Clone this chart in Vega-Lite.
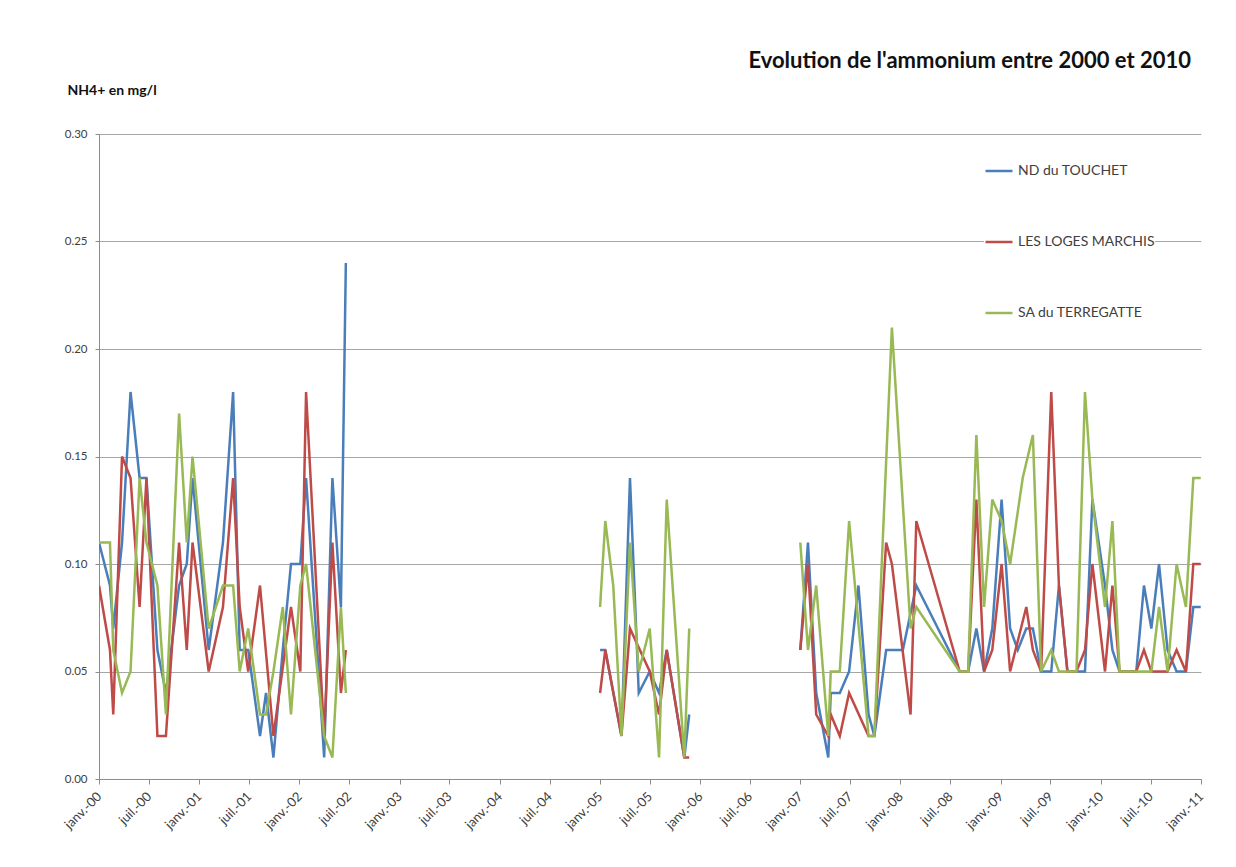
{
  "$schema": "https://vega.github.io/schema/vega-lite/v6.json",
  "width": 1102,
  "height": 645,
  "autosize": {"type": "none"},
  "padding": {"left": 99, "top": 134, "right": 35, "bottom": 88},
  "background": "white",
  "title": {
    "text": "Evolution de l'ammonium entre 2000 et 2010",
    "anchor": "end",
    "frame": "group",
    "offset": 10,
    "dx": -10,
    "font": "Lato",
    "fontSize": 22,
    "fontWeight": "bold",
    "color": "#111111"
  },
  "config": {
    "view": {"stroke": null},
    "font": "Lato",
    "axis": {
      "labelFont": "Lato",
      "labelColor": "#404040",
      "domainColor": "#8c8c8c",
      "tickColor": "#8c8c8c",
      "gridColor": "#a6a6a6",
      "gridWidth": 1
    }
  },
  "datasets": {
    "nd": [
      {"date": "2000-01-01", "nh4": 0.11}, {"date": "2000-02-10", "nh4": 0.09}, {"date": "2000-02-22", "nh4": 0.07},
      {"date": "2000-03-25", "nh4": 0.11}, {"date": "2000-04-25", "nh4": 0.18}, {"date": "2000-05-28", "nh4": 0.14},
      {"date": "2000-06-22", "nh4": 0.14}, {"date": "2000-08-01", "nh4": 0.06}, {"date": "2000-09-01", "nh4": 0.04},
      {"date": "2000-10-19", "nh4": 0.09}, {"date": "2000-11-16", "nh4": 0.10}, {"date": "2000-12-07", "nh4": 0.14},
      {"date": "2001-02-04", "nh4": 0.06}, {"date": "2001-03-28", "nh4": 0.11}, {"date": "2001-05-04", "nh4": 0.18},
      {"date": "2001-05-28", "nh4": 0.06}, {"date": "2001-06-28", "nh4": 0.06}, {"date": "2001-08-10", "nh4": 0.02},
      {"date": "2001-09-01", "nh4": 0.04}, {"date": "2001-09-28", "nh4": 0.01}, {"date": "2001-11-01", "nh4": 0.06},
      {"date": "2001-12-01", "nh4": 0.10}, {"date": "2002-01-04", "nh4": 0.10}, {"date": "2002-01-25", "nh4": 0.14},
      {"date": "2002-04-01", "nh4": 0.01}, {"date": "2002-05-01", "nh4": 0.14}, {"date": "2002-06-01", "nh4": 0.08},
      {"date": "2002-06-19", "nh4": 0.24},
      {"date": "2003-06-01", "nh4": null},
      {"date": "2005-01-01", "nh4": 0.06}, {"date": "2005-01-20", "nh4": 0.06}, {"date": "2005-03-20", "nh4": 0.02},
      {"date": "2005-04-20", "nh4": 0.14}, {"date": "2005-05-22", "nh4": 0.04}, {"date": "2005-07-01", "nh4": 0.05},
      {"date": "2005-08-04", "nh4": 0.04}, {"date": "2005-09-01", "nh4": 0.06}, {"date": "2005-11-04", "nh4": 0.01},
      {"date": "2005-11-22", "nh4": 0.03},
      {"date": "2006-06-01", "nh4": null},
      {"date": "2007-01-01", "nh4": 0.06}, {"date": "2007-01-29", "nh4": 0.11}, {"date": "2007-02-28", "nh4": 0.04},
      {"date": "2007-04-13", "nh4": 0.01}, {"date": "2007-04-22", "nh4": 0.04}, {"date": "2007-05-25", "nh4": 0.04},
      {"date": "2007-06-28", "nh4": 0.05}, {"date": "2007-08-01", "nh4": 0.09}, {"date": "2007-09-07", "nh4": 0.03},
      {"date": "2007-09-28", "nh4": 0.02}, {"date": "2007-11-10", "nh4": 0.06}, {"date": "2008-01-10", "nh4": 0.06},
      {"date": "2008-02-28", "nh4": 0.09}, {"date": "2008-08-04", "nh4": 0.05}, {"date": "2008-09-04", "nh4": 0.05},
      {"date": "2008-10-04", "nh4": 0.07}, {"date": "2008-11-01", "nh4": 0.05}, {"date": "2008-12-01", "nh4": 0.07},
      {"date": "2009-01-04", "nh4": 0.13}, {"date": "2009-02-04", "nh4": 0.07}, {"date": "2009-03-04", "nh4": 0.06},
      {"date": "2009-04-04", "nh4": 0.07}, {"date": "2009-04-28", "nh4": 0.07}, {"date": "2009-05-28", "nh4": 0.05},
      {"date": "2009-07-04", "nh4": 0.05}, {"date": "2009-08-01", "nh4": 0.09}, {"date": "2009-09-01", "nh4": 0.05},
      {"date": "2009-10-04", "nh4": 0.05}, {"date": "2009-11-04", "nh4": 0.05}, {"date": "2009-12-01", "nh4": 0.13},
      {"date": "2010-01-16", "nh4": 0.09}, {"date": "2010-02-12", "nh4": 0.06}, {"date": "2010-03-10", "nh4": 0.05},
      {"date": "2010-05-10", "nh4": 0.05}, {"date": "2010-06-07", "nh4": 0.09}, {"date": "2010-07-04", "nh4": 0.07},
      {"date": "2010-08-01", "nh4": 0.10}, {"date": "2010-09-01", "nh4": 0.06}, {"date": "2010-10-04", "nh4": 0.05},
      {"date": "2010-11-07", "nh4": 0.05}, {"date": "2010-12-04", "nh4": 0.08}, {"date": "2010-12-31", "nh4": 0.08}
    ],
    "loges": [
      {"date": "2000-01-01", "nh4": 0.09}, {"date": "2000-02-10", "nh4": 0.06}, {"date": "2000-02-22", "nh4": 0.03},
      {"date": "2000-03-25", "nh4": 0.15}, {"date": "2000-04-25", "nh4": 0.14}, {"date": "2000-05-28", "nh4": 0.08},
      {"date": "2000-06-22", "nh4": 0.14}, {"date": "2000-08-01", "nh4": 0.02}, {"date": "2000-09-01", "nh4": 0.02},
      {"date": "2000-10-19", "nh4": 0.11}, {"date": "2000-11-16", "nh4": 0.06}, {"date": "2000-12-07", "nh4": 0.11},
      {"date": "2001-02-04", "nh4": 0.05}, {"date": "2001-03-28", "nh4": 0.08}, {"date": "2001-05-04", "nh4": 0.14},
      {"date": "2001-05-28", "nh4": 0.08}, {"date": "2001-06-28", "nh4": 0.05}, {"date": "2001-08-10", "nh4": 0.09},
      {"date": "2001-09-28", "nh4": 0.02}, {"date": "2001-12-01", "nh4": 0.08}, {"date": "2002-01-04", "nh4": 0.05},
      {"date": "2002-01-25", "nh4": 0.18}, {"date": "2002-04-01", "nh4": 0.02}, {"date": "2002-05-01", "nh4": 0.11},
      {"date": "2002-06-01", "nh4": 0.04}, {"date": "2002-06-19", "nh4": 0.06},
      {"date": "2003-06-01", "nh4": null},
      {"date": "2005-01-01", "nh4": 0.04}, {"date": "2005-01-20", "nh4": 0.06}, {"date": "2005-03-20", "nh4": 0.02},
      {"date": "2005-04-20", "nh4": 0.07}, {"date": "2005-07-01", "nh4": 0.05}, {"date": "2005-08-04", "nh4": 0.03},
      {"date": "2005-09-01", "nh4": 0.06}, {"date": "2005-11-04", "nh4": 0.01}, {"date": "2005-11-22", "nh4": 0.01},
      {"date": "2006-06-01", "nh4": null},
      {"date": "2007-01-01", "nh4": 0.06}, {"date": "2007-01-29", "nh4": 0.10}, {"date": "2007-02-28", "nh4": 0.03},
      {"date": "2007-04-13", "nh4": 0.02}, {"date": "2007-04-22", "nh4": 0.03}, {"date": "2007-05-25", "nh4": 0.02},
      {"date": "2007-06-28", "nh4": 0.04}, {"date": "2007-09-07", "nh4": 0.02}, {"date": "2007-09-28", "nh4": 0.02},
      {"date": "2007-11-10", "nh4": 0.11}, {"date": "2007-12-01", "nh4": 0.10}, {"date": "2008-02-07", "nh4": 0.03},
      {"date": "2008-02-28", "nh4": 0.12}, {"date": "2008-08-04", "nh4": 0.05}, {"date": "2008-09-04", "nh4": 0.05},
      {"date": "2008-10-04", "nh4": 0.13}, {"date": "2008-11-01", "nh4": 0.05}, {"date": "2008-12-01", "nh4": 0.06},
      {"date": "2009-01-04", "nh4": 0.10}, {"date": "2009-02-04", "nh4": 0.05}, {"date": "2009-04-04", "nh4": 0.08},
      {"date": "2009-04-28", "nh4": 0.06}, {"date": "2009-05-28", "nh4": 0.05}, {"date": "2009-07-04", "nh4": 0.18},
      {"date": "2009-08-01", "nh4": 0.09}, {"date": "2009-09-01", "nh4": 0.05}, {"date": "2009-10-04", "nh4": 0.05},
      {"date": "2009-11-04", "nh4": 0.06}, {"date": "2009-12-01", "nh4": 0.10}, {"date": "2010-01-16", "nh4": 0.05},
      {"date": "2010-02-12", "nh4": 0.09}, {"date": "2010-03-10", "nh4": 0.05}, {"date": "2010-05-10", "nh4": 0.05},
      {"date": "2010-06-07", "nh4": 0.06}, {"date": "2010-07-04", "nh4": 0.05}, {"date": "2010-09-01", "nh4": 0.05},
      {"date": "2010-10-04", "nh4": 0.06}, {"date": "2010-11-07", "nh4": 0.05}, {"date": "2010-12-04", "nh4": 0.10},
      {"date": "2010-12-31", "nh4": 0.10}
    ],
    "sa": [
      {"date": "2000-01-01", "nh4": 0.11}, {"date": "2000-02-10", "nh4": 0.11}, {"date": "2000-02-22", "nh4": 0.06},
      {"date": "2000-03-25", "nh4": 0.04}, {"date": "2000-04-25", "nh4": 0.05}, {"date": "2000-05-28", "nh4": 0.14},
      {"date": "2000-06-22", "nh4": 0.11}, {"date": "2000-08-01", "nh4": 0.09}, {"date": "2000-09-01", "nh4": 0.03},
      {"date": "2000-10-19", "nh4": 0.17}, {"date": "2000-11-16", "nh4": 0.11}, {"date": "2000-12-07", "nh4": 0.15},
      {"date": "2001-02-04", "nh4": 0.07}, {"date": "2001-03-28", "nh4": 0.09}, {"date": "2001-05-04", "nh4": 0.09},
      {"date": "2001-05-28", "nh4": 0.05}, {"date": "2001-06-28", "nh4": 0.07}, {"date": "2001-08-10", "nh4": 0.03},
      {"date": "2001-09-01", "nh4": 0.03}, {"date": "2001-09-28", "nh4": 0.05}, {"date": "2001-11-01", "nh4": 0.08},
      {"date": "2001-12-01", "nh4": 0.03}, {"date": "2002-01-04", "nh4": 0.09}, {"date": "2002-01-25", "nh4": 0.10},
      {"date": "2002-04-01", "nh4": 0.02}, {"date": "2002-05-01", "nh4": 0.01}, {"date": "2002-06-01", "nh4": 0.08},
      {"date": "2002-06-19", "nh4": 0.04},
      {"date": "2003-06-01", "nh4": null},
      {"date": "2005-01-01", "nh4": 0.08}, {"date": "2005-01-20", "nh4": 0.12}, {"date": "2005-02-18", "nh4": 0.09},
      {"date": "2005-03-20", "nh4": 0.02}, {"date": "2005-04-20", "nh4": 0.11}, {"date": "2005-05-22", "nh4": 0.05},
      {"date": "2005-07-01", "nh4": 0.07}, {"date": "2005-08-04", "nh4": 0.01}, {"date": "2005-09-01", "nh4": 0.13},
      {"date": "2005-11-04", "nh4": 0.01}, {"date": "2005-11-22", "nh4": 0.07},
      {"date": "2006-06-01", "nh4": null},
      {"date": "2007-01-01", "nh4": 0.11}, {"date": "2007-01-29", "nh4": 0.06}, {"date": "2007-02-28", "nh4": 0.09},
      {"date": "2007-04-13", "nh4": 0.02}, {"date": "2007-04-22", "nh4": 0.05}, {"date": "2007-05-25", "nh4": 0.05},
      {"date": "2007-06-28", "nh4": 0.12}, {"date": "2007-09-07", "nh4": 0.02}, {"date": "2007-09-28", "nh4": 0.02},
      {"date": "2007-12-01", "nh4": 0.21}, {"date": "2008-02-07", "nh4": 0.07}, {"date": "2008-02-28", "nh4": 0.08},
      {"date": "2008-08-04", "nh4": 0.05}, {"date": "2008-09-04", "nh4": 0.05}, {"date": "2008-10-04", "nh4": 0.16},
      {"date": "2008-11-01", "nh4": 0.08}, {"date": "2008-12-01", "nh4": 0.13}, {"date": "2009-01-04", "nh4": 0.12},
      {"date": "2009-02-04", "nh4": 0.10}, {"date": "2009-03-22", "nh4": 0.14}, {"date": "2009-04-28", "nh4": 0.16},
      {"date": "2009-05-28", "nh4": 0.05}, {"date": "2009-07-04", "nh4": 0.06}, {"date": "2009-08-01", "nh4": 0.05},
      {"date": "2009-09-01", "nh4": 0.05}, {"date": "2009-10-04", "nh4": 0.05}, {"date": "2009-11-04", "nh4": 0.18},
      {"date": "2009-12-01", "nh4": 0.13}, {"date": "2010-01-16", "nh4": 0.08}, {"date": "2010-02-12", "nh4": 0.12},
      {"date": "2010-03-10", "nh4": 0.05}, {"date": "2010-05-10", "nh4": 0.05}, {"date": "2010-06-07", "nh4": 0.05},
      {"date": "2010-07-04", "nh4": 0.05}, {"date": "2010-08-01", "nh4": 0.08}, {"date": "2010-09-01", "nh4": 0.05},
      {"date": "2010-10-04", "nh4": 0.10}, {"date": "2010-11-07", "nh4": 0.08}, {"date": "2010-12-04", "nh4": 0.14},
      {"date": "2010-12-31", "nh4": 0.14}
    ]
  },
  "encoding": {
    "x": {
      "field": "date",
      "type": "temporal",
      "scale": {
        "type": "utc",
        "domain": [
          {"year": 2000, "month": 1, "date": 1, "utc": true},
          {"year": 2011, "month": 1, "date": 1, "utc": true}
        ],
        "nice": false
      },
      "axis": {
        "title": null,
        "grid": false,
        "tickCount": {"interval": "month", "step": 6},
        "labelExpr": "(utcFormat(datum.value, '%m') == '01' ? 'janv.-' : 'juil.-') + utcFormat(datum.value, '%y')",
        "labelAngle": -45,
        "labelAlign": "right",
        "labelBaseline": "middle",
        "labelPadding": 10,
        "labelFontSize": 13,
        "labelOverlap": false,
        "labelFlush": false,
        "labelBound": false,
        "tickSize": 5
      }
    },
    "y": {
      "field": "nh4",
      "type": "quantitative",
      "scale": {"domain": [0, 0.3], "nice": false, "zero": true},
      "axis": {
        "title": "NH4+ en mg/l",
        "titleAngle": 0,
        "titleAlign": "left",
        "titleBaseline": "alphabetic",
        "titleX": -32,
        "titleY": -40,
        "titleFont": "Lato",
        "titleFontSize": 14,
        "titleFontWeight": "bold",
        "titleColor": "#111111",
        "values": [0, 0.05, 0.1, 0.15, 0.2, 0.25, 0.3],
        "format": ".2f",
        "labelFontSize": 11.5,
        "labelPadding": 8,
        "tickSize": 4,
        "grid": true
      }
    },
    "color": {
      "type": "nominal",
      "scale": {
        "domain": ["ND du TOUCHET", "LES LOGES MARCHIS", "SA du TERREGATTE"],
        "range": ["#4a7ebb", "#be4b48", "#98b954"]
      },
      "legend": {
        "title": null,
        "orient": "none",
        "legendX": 885,
        "legendY": 22,
        "direction": "vertical",
        "symbolType": "stroke",
        "symbolSize": 729,
        "symbolStrokeWidth": 2.5,
        "labelFont": "Lato",
        "labelFontSize": 14,
        "labelColor": "#404040",
        "labelOffset": 4,
        "rowPadding": 49,
        "fillColor": "white",
        "padding": 0
      }
    }
  },
  "layer": [
    {
      "data": {"name": "nd"},
      "mark": {"type": "line", "strokeWidth": 2.5, "invalid": "break-paths-filter-domains", "clip": true},
      "encoding": {"color": {"datum": "ND du TOUCHET"}}
    },
    {
      "data": {"name": "loges"},
      "mark": {"type": "line", "strokeWidth": 2.5, "invalid": "break-paths-filter-domains", "clip": true},
      "encoding": {"color": {"datum": "LES LOGES MARCHIS"}}
    },
    {
      "data": {"name": "sa"},
      "mark": {"type": "line", "strokeWidth": 2.5, "invalid": "break-paths-filter-domains", "clip": true},
      "encoding": {"color": {"datum": "SA du TERREGATTE"}}
    }
  ]
}
